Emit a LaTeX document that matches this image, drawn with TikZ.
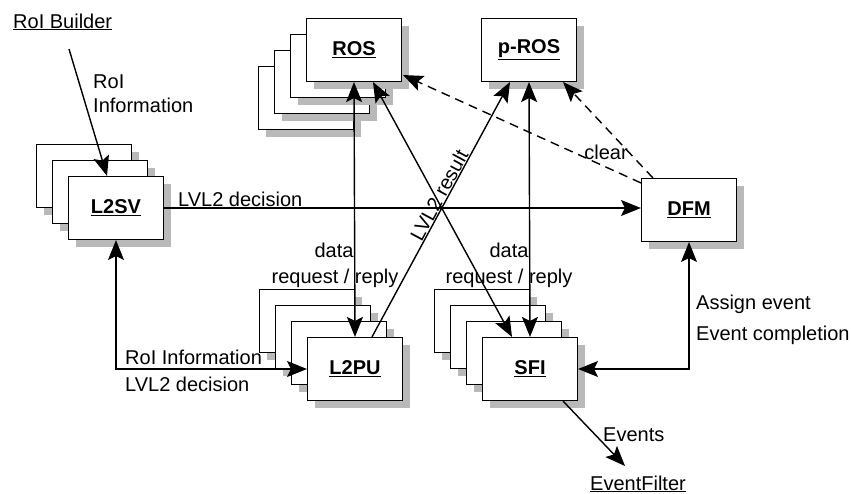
\documentclass[tikz,border=0pt]{standalone}
\usepackage{fontspec}
\setmainfont{Liberation Sans}
\usetikzlibrary{arrows.meta,shadows,calc}
\begin{document}
\begin{tikzpicture}[x=1pt,y=-1pt,
  every node/.style={font=\fontsize{20}{24}\selectfont, inner sep=1pt},
  box/.style={draw=black, line width=1.1pt, fill=white,
    minimum width=95pt, minimum height=63pt, inner sep=0pt,
    font=\fontsize{20}{24}\selectfont\bfseries,
    drop shadow={shadow xshift=7pt, shadow yshift=-7pt, fill=gray!55, opacity=1}},
  link/.style={line width=1.4pt},
  dlink/.style={line width=1.4pt, dash pattern=on 9pt off 6pt},
  lbl/.style={anchor=base west},
  >={Stealth[length=20pt,width=16pt,inset=4pt]}
]
\useasboundingbox (0,0) rectangle (851,493);

% ROS stack
\node[box] (rosb3) at (306,98) {};
\node[box] (rosb2) at (322,82) {};
\node[box] (rosb1) at (338,66) {};
\node[box] (ros) at (354,50) {\underline{ROS}};
% p-ROS
\node[box] (pros) at (529,50) {\underline{p-ROS}};
% DFM
\node[box] (dfm) at (689,210) {\underline{DFM}};
% L2SV stack
\node[box] (l2svb2) at (84,176) {};
\node[box] (l2svb1) at (100,192) {};
\node[box] (l2sv) at (116,208) {\underline{L2SV}};
% L2PU stack
\node[box] (l2pub3) at (307,321) {};
\node[box] (l2pub2) at (323,337) {};
\node[box] (l2pub1) at (339,353) {};
\node[box] (l2pu) at (355,369) {\underline{L2PU}};
% SFI stack
\node[box] (sfib3) at (482,321) {};
\node[box] (sfib2) at (498,337) {};
\node[box] (sfib1) at (514,353) {};
\node[box] (sfi) at (530,369) {\underline{SFI}};

% external labels
\node[lbl] (rb) at (12,28) {\underline{RoI Builder}};
\node[lbl] (ef) at (589,490) {\underline{EventFilter}};
\coordinate (rbout) at (69,49);
\coordinate (efin) at (625,466);

% connectors
\draw[link,->] (rbout) -- ($(l2sv.north)+(-9,0)$);
\node[lbl] (t1) at (92,88) {RoI};
\node[lbl] (t2) at (92,112) {Information};

\draw[link,->] (l2sv.east) -- (l2sv.east -| dfm.west);
\node[lbl] (t3) at (177,206) {LVL2 decision};

\draw[link,<->] (ros.south) -- (l2pu.north);
\node[anchor=base] (t4) at (334,257) {data};
\node[anchor=base] (t5) at (335,283) {request / reply};

\draw[link,<->] (pros.south) -- (sfi.north);
\node[anchor=base] (t6) at (509,257) {data};
\node[anchor=base] (t7) at (509,283) {request / reply};

\draw[link,<->] ($(ros.south)+(19,0)$) -- ($(sfi.north)+(-18,0)$);
\draw[link,->] ($(l2pu.north)+(17,0)$) -- node[sloped, above, pos=0.54, inner sep=0.5pt] (t8) {LVL2 result} ($(pros.south)+(-19,0)$);

\draw[dlink,->] ($(dfm.north west)+(0,5)$) -- ($(ros.south east)+(1,-7)$);
\draw[dlink,->] ($(dfm.north west)+(12,0)$) -- ($(pros.south east)+(-14,0)$);
\node[anchor=base] (t9) at (606,159) {clear};

\draw[link,<->] (dfm.south) |- (sfi.east);
\node[lbl] (t10) at (695,309) {Assign event};
\node[lbl] (t11) at (695,340) {Event completion};

\draw[link,<->] (l2sv.south) |- (l2pu.west);
\node[lbl] (t12) at (124,364) {RoI Information};
\node[lbl] (t13) at (124,391) {LVL2 decision};

\draw[link,->] ($(sfi.south)+(33,0)$) -- (efin);
\node[lbl] (t14) at (602,441) {Events};
\end{tikzpicture}
\end{document}
